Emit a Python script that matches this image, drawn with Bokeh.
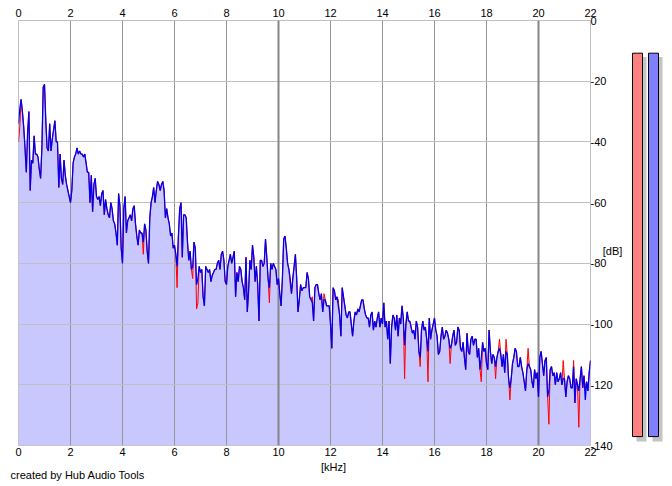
from bokeh.plotting import figure
from bokeh.models import Range1d, LinearAxis, FixedTicker, Grid
from bokeh.layouts import row, column
from bokeh.core.properties import value
from bokeh.embed import file_html
from bokeh.resources import INLINE

# ---------------- data ----------------
freq_step_khz = 0.05
x_ticks_khz = [0, 2, 4, 6, 8, 10, 12, 14, 16, 18, 20, 22]
major_ticks_khz = [0, 10, 20]
y_ticks_db = [0, -20, -40, -60, -80, -100, -120, -140]
db_unit_pos = -76

# right channel (blue), one value per 0.05 kHz from 0 to 22 kHz
blue_db = [
    -34, -29, -26, -30, -35, -42, -50, -37, -30, -56,
    -46, -47, -38, -44, -44, -45, -49, -52, -42, -22,
    -21, -33, -42, -43, -34, -43, -39, -36, -33, -40,
    -40, -55, -44, -52, -54, -46, -51, -54, -56, -58,
    -60, -56, -47, -45, -44, -42, -44, -43, -44, -44,
    -45, -44, -47, -50, -50, -60, -51, -63, -54, -52,
    -58, -59, -58, -61, -57, -56, -64, -59, -62, -64,
    -65, -60, -62, -66, -67, -70, -74, -57, -61, -75,
    -80, -62, -58, -70, -66, -65, -64, -66, -62, -61,
    -67, -71, -74, -69, -70, -70, -73, -67, -69, -76,
    -80, -65, -60, -58, -55, -60, -56, -53, -54, -56,
    -54, -53, -56, -65, -62, -65, -67, -71, -70, -75,
    -74, -77, -81, -71, -62, -60, -78, -64, -64, -65,
    -73, -79, -76, -82, -81, -73, -75, -87, -85, -81,
    -83, -82, -91, -94, -81, -82, -83, -82, -86, -84,
    -83, -82, -82, -80, -79, -82, -77, -76, -79, -86,
    -87, -81, -79, -77, -80, -78, -76, -91, -83, -86,
    -81, -82, -86, -88, -92, -78, -96, -89, -79, -82,
    -74, -78, -86, -81, -87, -99, -79, -79, -81, -80,
    -72, -78, -85, -88, -80, -82, -80, -81, -82, -87,
    -85, -90, -94, -85, -72, -71, -75, -80, -82, -85,
    -90, -85, -81, -77, -85, -96, -92, -87, -89, -88,
    -88, -88, -83, -85, -91, -92, -93, -99, -88, -87,
    -87, -90, -92, -90, -96, -92, -92, -94, -94, -94,
    -100, -108, -88, -89, -92, -91, -94, -97, -104, -88,
    -91, -94, -97, -98, -96, -96, -100, -104, -99, -96,
    -97, -95, -96, -94, -92, -92, -95, -97, -98, -98,
    -101, -97, -96, -102, -99, -101, -98, -96, -101, -98,
    -100, -93, -101, -99, -105, -99, -113, -101, -97, -98,
    -102, -97, -104, -98, -100, -94, -98, -107, -100, -96,
    -99, -99, -101, -103, -102, -105, -99, -101, -109, -111,
    -102, -99, -102, -101, -105, -109, -98, -105, -102, -100,
    -98, -102, -104, -110, -109, -104, -101, -105, -104, -102,
    -103, -105, -108, -107, -104, -102, -107, -106, -101, -102,
    -108, -109, -106, -111, -115, -103, -109, -110, -105, -104,
    -107, -105, -105, -111, -108, -115, -111, -106, -109, -108,
    -113, -115, -102, -109, -113, -110, -111, -114, -111, -109,
    -108, -110, -114, -110, -116, -109, -110, -118, -121, -118,
    -113, -111, -108, -109, -114, -114, -111, -114, -116, -119,
    -122, -115, -113, -114, -115, -119, -121, -115, -118, -116,
    -124, -111, -109, -113, -117, -112, -111, -124, -122, -115,
    -114, -117, -116, -120, -116, -119, -118, -116, -120, -118,
    -118, -124, -119, -117, -118, -121, -121, -114, -126, -118,
    -120, -122, -118, -114, -121, -117, -125, -119, -122, -116,
    -112,
]

# left channel (red), same bins
red_db = [
    -40, -35, -26, -30, -35, -42, -50, -37, -30, -56,
    -46, -47, -38, -44, -44, -45, -49, -52, -42, -22,
    -21, -33, -42, -43, -34, -43, -39, -36, -33, -40,
    -40, -55, -44, -52, -54, -46, -51, -54, -56, -58,
    -60, -56, -47, -45, -44, -42, -44, -43, -44, -44,
    -45, -44, -47, -50, -50, -60, -51, -63, -54, -52,
    -58, -59, -58, -61, -57, -56, -64, -59, -62, -64,
    -65, -60, -62, -66, -67, -70, -74, -57, -61, -75,
    -80, -62, -58, -70, -66, -65, -64, -66, -62, -61,
    -67, -71, -74, -69, -70, -70, -77, -67, -69, -76,
    -80, -65, -60, -58, -55, -60, -56, -53, -54, -56,
    -54, -53, -56, -65, -62, -65, -67, -71, -70, -75,
    -74, -77, -88, -71, -62, -60, -78, -64, -64, -65,
    -73, -79, -76, -82, -85, -73, -75, -95, -93, -81,
    -83, -82, -91, -94, -81, -82, -83, -82, -86, -84,
    -83, -82, -82, -80, -79, -82, -77, -76, -79, -86,
    -87, -81, -79, -77, -80, -78, -76, -91, -83, -86,
    -81, -82, -86, -88, -92, -78, -96, -89, -79, -82,
    -74, -78, -86, -81, -87, -99, -79, -79, -81, -80,
    -72, -78, -85, -93, -80, -82, -80, -81, -82, -87,
    -85, -90, -94, -85, -72, -71, -75, -80, -82, -87,
    -90, -85, -81, -77, -85, -96, -92, -87, -89, -88,
    -88, -88, -83, -85, -91, -92, -91, -99, -88, -87,
    -87, -90, -92, -90, -96, -90, -92, -94, -94, -94,
    -100, -108, -88, -89, -92, -91, -92, -97, -104, -88,
    -91, -94, -97, -98, -96, -96, -100, -104, -99, -96,
    -97, -95, -96, -94, -92, -92, -95, -97, -98, -98,
    -101, -97, -96, -102, -99, -101, -98, -96, -101, -98,
    -100, -93, -101, -99, -105, -99, -113, -101, -97, -98,
    -102, -97, -104, -98, -100, -94, -98, -118, -100, -96,
    -99, -99, -101, -103, -102, -105, -99, -101, -109, -114,
    -102, -99, -102, -101, -105, -119, -98, -105, -102, -100,
    -98, -102, -104, -110, -109, -104, -101, -105, -104, -102,
    -103, -105, -113, -107, -104, -102, -107, -106, -101, -102,
    -108, -109, -106, -111, -115, -103, -109, -110, -105, -104,
    -107, -105, -105, -111, -108, -115, -119, -106, -109, -108,
    -113, -115, -102, -109, -113, -110, -111, -118, -111, -109,
    -105, -110, -114, -110, -116, -105, -110, -118, -125, -118,
    -113, -111, -108, -109, -114, -114, -111, -114, -116, -119,
    -122, -115, -108, -114, -115, -119, -121, -115, -118, -116,
    -124, -111, -109, -113, -117, -112, -111, -124, -133, -115,
    -114, -117, -116, -120, -116, -119, -118, -116, -120, -112,
    -118, -124, -119, -117, -118, -121, -121, -112, -126, -118,
    -120, -134, -118, -114, -121, -117, -121, -119, -122, -116,
    -112,
]

freq_khz = [round(i * freq_step_khz, 2) for i in range(len(blue_db))]

meter_channels = ["L", "R"]
meter_levels_db = [-11, -11]

# ---------------- styles ----------------
FONT = "Liberation Sans"
FS = "11px"
FILL = "#c8c8ff"
BLUE = "#0000ee"
RED = "#ff0000"

def style_axis(ax, ticks, standoff=2):
    ax.ticker = FixedTicker(ticks=ticks)
    ax.axis_line_color = None
    ax.major_tick_line_color = None
    ax.minor_tick_line_color = None
    ax.major_tick_in = 0
    ax.major_tick_out = 0
    ax.major_label_standoff = standoff
    ax.major_label_text_font = FONT
    ax.major_label_text_font_size = FS
    ax.major_label_text_color = "black"

p = figure(width=628, height=460,
           x_range=Range1d(0, 22), y_range=Range1d(-140, 0),
           x_axis_location="above", y_axis_location="right",
           toolbar_location=None, output_backend="svg",
           min_border_left=18, min_border_right=38,
           min_border_top=20, min_border_bottom=15)
p.background_fill_color = "white"
p.border_fill_color = "white"
p.outline_line_color = "#c0c0c0"

style_axis(p.xaxis[0], x_ticks_khz, standoff=4)
style_axis(p.yaxis[0], y_ticks_db + [db_unit_pos], standoff=0)
y_labels = {t: str(t) for t in y_ticks_db}
y_labels[db_unit_pos] = "\u00a0\u00a0\u00a0\u00a0[dB]"
p.yaxis[0].major_label_overrides = y_labels
bottom_ax = LinearAxis()
style_axis(bottom_ax, x_ticks_khz, standoff=2)
p.add_layout(bottom_ax, "below")

p.xgrid[0].ticker = FixedTicker(ticks=x_ticks_khz)
p.xgrid[0].grid_line_color = "#969696"
p.xgrid[0].grid_line_width = 1
p.ygrid[0].ticker = FixedTicker(ticks=y_ticks_db)
p.ygrid[0].grid_line_color = "#c0c0c0"
p.ygrid[0].grid_line_width = 1
p.add_layout(Grid(dimension=0, ticker=FixedTicker(ticks=major_ticks_khz),
                  grid_line_color="#858585", grid_line_width=2))

# filled spectra (drawn beneath the grid)
p.varea(x=freq_khz, y1=-140, y2=red_db, fill_color=FILL, level="image")
p.varea(x=freq_khz, y1=-140, y2=blue_db, fill_color=FILL, level="image")
p.line(freq_khz, red_db, line_color=RED, line_width=1)
p.line(freq_khz, blue_db, line_color=BLUE, line_width=1.3)

# ---------------- level meters ----------------
m = figure(width=44, height=460,
           x_range=Range1d(0, 44), y_range=Range1d(-143, 0),
           x_axis_location=None, y_axis_location=None,
           toolbar_location=None, output_backend="svg",
           min_border_left=0, min_border_right=0,
           min_border_top=20, min_border_bottom=6)
m.background_fill_color = "white"
m.border_fill_color = "white"
m.outline_line_color = None
m.grid.visible = False

bar_left = [4 + 16 * i for i in range(len(meter_channels))]
bar_right = [b + 10 for b in bar_left]
px_per_db = 3.036
m.quad(left=[b + 4 for b in bar_left], right=[b + 4 for b in bar_right],
       top=[v - 4 / px_per_db for v in meter_levels_db],
       bottom=-140 - 5 / px_per_db, fill_color="#c4c4c4", line_color=None)
m.quad(left=bar_left, right=bar_right, top=meter_levels_db, bottom=-140,
       fill_color=["#ff8080", "#8080ff"], line_color="black", line_width=1)

# ---------------- footer texts ----------------
f = figure(width=672, height=26, x_range=Range1d(0, 672), y_range=Range1d(0, 26),
           x_axis_location=None, y_axis_location=None,
           toolbar_location=None, output_backend="svg",
           min_border_left=0, min_border_right=0, min_border_top=0, min_border_bottom=0)
f.background_fill_color = "white"
f.border_fill_color = "white"
f.outline_line_color = None
f.grid.visible = False
f.text(x=[333], y=[20], text=["[kHz]"], text_align="center", text_baseline="middle",
       text_font=value(FONT), text_font_size=FS, text_color="black")
f.text(x=[10], y=[12], text=["created by Hub Audio Tools"], text_align="left",
       text_baseline="middle", text_font=value(FONT), text_font_size=FS, text_color="black")

layout = column(row(p, m), f)
open("out.html", "w").write(file_html(layout, INLINE))
